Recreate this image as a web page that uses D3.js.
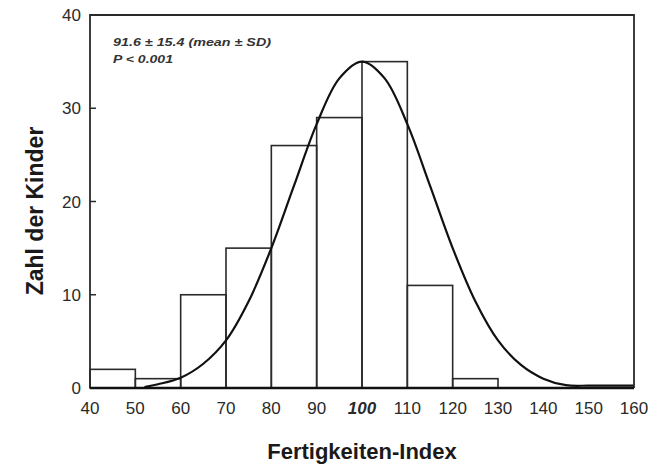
<!DOCTYPE html>
<html>
<head>
<meta charset="utf-8">
<script src="https://cdn.jsdelivr.net/npm/d3@7"></script>
<style>
  body { margin: 0; background: #fff; }
  svg { display: block; font-family: "Liberation Sans", Arial, Helvetica, sans-serif; }
</style>
</head>
<body>
<div id="chart"></div>
<script>
// histogram bins (lower edge) and counts
var binStarts = [40, 50, 60, 70, 80, 90, 100, 110, 120, 130, 140, 150];
var counts = [2, 1, 10, 15, 26, 29, 35, 11, 1, 0, 0, 0];
// fitted curve
var curveX = [52, 55, 60, 65, 70, 75, 80, 85, 90, 95, 100, 105, 110, 115, 120, 125, 130, 135, 140, 145, 150, 155, 160];
var curveY = [0.1, 0.4, 1.1, 2.6, 5.1, 9.3, 15, 21.7, 28.3, 33.2, 35, 33.2, 28.3, 21.7, 15, 9.3, 5.1, 2.5, 1.0, 0.3, 0.25, 0.25, 0.25];
var xTicks = [40, 50, 60, 70, 80, 90, 100, 110, 120, 130, 140, 150, 160];
var yTicks = [0, 10, 20, 30, 40];
var notes = ["91.6 \u00b1 15.4 (mean \u00b1 SD)", "P < 0.001"];

var width = 661, height = 465;
var plotLeft = 90, plotRight = 634, plotTop = 15, plotBottom = 388;

var svg = d3.select("#chart").append("svg")
    .attr("width", width)
    .attr("height", height);

var x = d3.scaleLinear().domain([40, 160]).range([plotLeft, plotRight]);
var y = d3.scaleLinear().domain([0, 40]).range([plotBottom, plotTop]);

// bars
svg.selectAll(".bar")
    .data(binStarts.map(function (d, i) { return {x0: d, n: counts[i]}; })
        .filter(function (d) { return d.n > 0; }))
    .enter()
    .append("rect")
    .attr("class", "bar")
    .attr("x", function (d) { return x(d.x0); })
    .attr("y", function (d) { return y(d.n); })
    .attr("width", function (d) { return x(d.x0 + 10) - x(d.x0); })
    .attr("height", function (d) { return y(0) - y(d.n); })
    .style("fill", "none")
    .style("stroke", "#2a2a2a")
    .style("stroke-width", 1.6);

// curve
var line = d3.line()
    .x(function (d) { return x(d[0]); })
    .y(function (d) { return y(d[1]); })
    .curve(d3.curveCatmullRom);

svg.append("path")
    .datum(curveX.map(function (d, i) { return [d, curveY[i]]; }))
    .attr("d", line)
    .style("fill", "none")
    .style("stroke", "#111")
    .style("stroke-width", 2.2);

// frame
svg.append("path")
    .attr("d", "M" + plotLeft + "," + plotBottom + "V" + plotTop + "H" + plotRight + "V" + plotBottom)
    .style("fill", "none")
    .style("stroke", "#2a2a2a")
    .style("stroke-width", 1.8);

svg.append("line")
    .attr("x1", plotLeft).attr("x2", plotRight)
    .attr("y1", y(0)).attr("y2", y(0))
    .style("stroke", "#111")
    .style("stroke-width", 2.6);

// y ticks (inward)
svg.selectAll(".ytick")
    .data(yTicks.slice(1, -1))
    .enter()
    .append("line")
    .attr("x1", plotLeft).attr("x2", plotLeft + 6)
    .attr("y1", function (d) { return y(d); })
    .attr("y2", function (d) { return y(d); })
    .style("stroke", "#2a2a2a")
    .style("stroke-width", 1.5);

svg.selectAll(".ylab")
    .data(yTicks)
    .enter()
    .append("text")
    .attr("x", 81)
    .attr("y", function (d) { return y(d) + 6; })
    .attr("text-anchor", "end")
    .style("font-size", "17px")
    .style("fill", "#2a2a2a")
    .text(function (d) { return d; });

svg.selectAll(".xlab")
    .data(xTicks)
    .enter()
    .append("text")
    .attr("x", function (d) { return x(d); })
    .attr("y", 414)
    .attr("text-anchor", "middle")
    .style("font-size", "17px")
    .style("font-style", function (d) { return d === 100 ? "italic" : "normal"; })
    .style("font-weight", function (d) { return d === 100 ? "bold" : "normal"; })
    .style("fill", "#2a2a2a")
    .text(function (d) { return d; });

// notes
svg.selectAll(".note")
    .data(notes)
    .enter()
    .append("text")
    .attr("x", 113)
    .attr("y", function (d, i) { return 46 + i * 17; })
    .attr("textLength", function (d, i) { return i === 0 ? 158 : 60; })
    .attr("lengthAdjust", "spacingAndGlyphs")
    .style("font-size", "11.5px")
    .style("font-style", "italic")
    .style("font-weight", "bold")
    .style("fill", "#333")
    .text(function (d) { return d; });

// axis titles
svg.append("text")
    .attr("x", (plotLeft + plotRight) / 2)
    .attr("y", 459)
    .attr("text-anchor", "middle")
    .style("font-size", "22px")
    .style("font-weight", "bold")
    .style("fill", "#1a1a1a")
    .text("Fertigkeiten-Index");

svg.append("text")
    .attr("transform", "translate(43,211) rotate(-90)")
    .attr("text-anchor", "middle")
    .style("font-size", "23px")
    .style("font-weight", "bold")
    .style("fill", "#1a1a1a")
    .text("Zahl der Kinder");
</script>
</body>
</html>
